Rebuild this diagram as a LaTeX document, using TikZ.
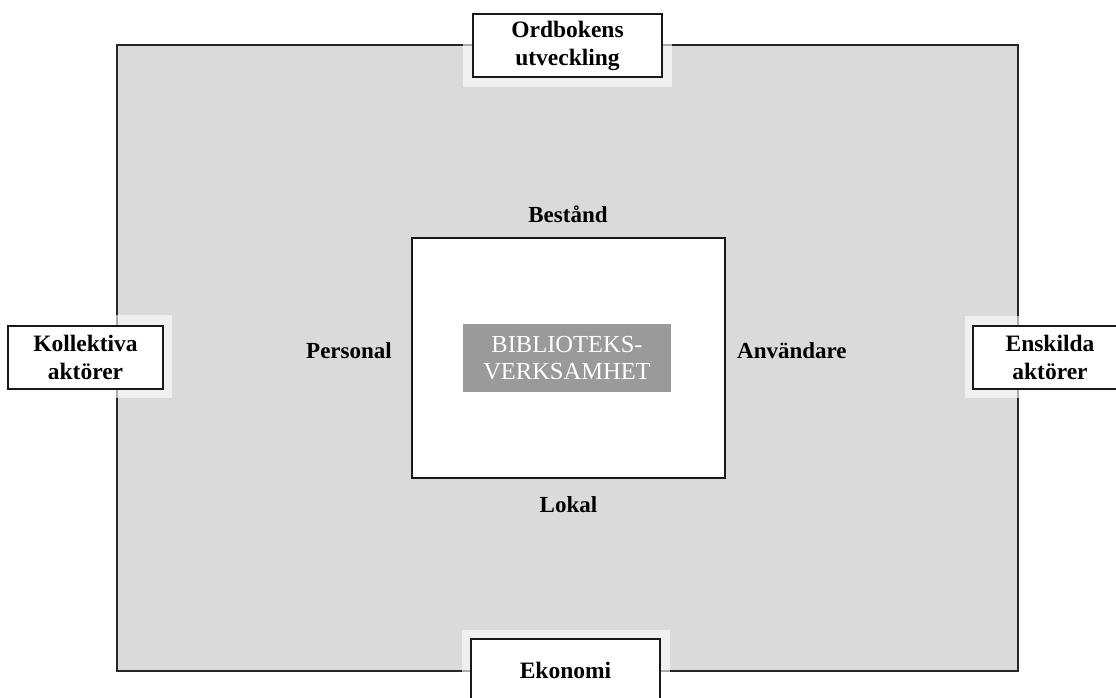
\documentclass[tikz,border=0pt]{standalone}
\usepackage{fontspec}
\setmainfont{Liberation Serif}
\definecolor{framegray}{HTML}{DADADA}
\definecolor{coregray}{HTML}{9A9A9A}
\begin{document}
\begin{tikzpicture}[x=1pt,y=-1pt,
  outerbox/.style={draw=black!85,line width=2pt,fill=framegray,inner sep=0pt},
  halo/.style={fill=white,fill opacity=0.62,draw=none,inner sep=0pt},
  factorbox/.style={draw=black!90,line width=1.8pt,fill=white,inner sep=0pt,
    align=center,font=\fontsize{23.5}{28}\selectfont\bfseries,minimum height=63pt},
  corebox/.style={draw=black!90,line width=1.8pt,fill=white,inner sep=0pt},
  coretext/.style={fill=coregray,text=white,inner sep=0pt,align=center,
    font=\fontsize{24.5}{27}\selectfont,minimum width=208pt,minimum height=68pt},
  sidelabel/.style={anchor=base,inner sep=0pt,font=\fontsize{23}{27}\selectfont\bfseries}]
\useasboundingbox (0,0) rectangle (1116,698);
% outer frame
\node[outerbox,minimum width=901pt,minimum height=626pt] (frame) at (567.5,358) {};
% halos
\node[halo,minimum width=209pt,minimum height=85pt] (haloT) at (567.5,44.5) {};
\node[halo,minimum width=172pt,minimum height=83pt] (haloL) at (86,356.5) {};
\node[halo,minimum width=151pt,minimum height=82pt] (haloR) at (1040.5,357) {};
\node[halo,minimum width=208pt,minimum height=68pt] (haloB) at (566,664) {};
% factor boxes
\node[factorbox,minimum width=189pt] (ordbok) at (567.5,45.5) {Ordbokens\\utveckling};
\node[factorbox,minimum width=155pt] (kollektiva) at (85.5,357.5) {Kollektiva\\aktörer};
\node[factorbox,minimum width=154pt] (enskilda) at (1050,357.5) {Enskilda\\aktörer};
\node[factorbox,minimum width=189pt] (ekonomi) at (565.5,670.5) {Ekonomi};
% core
\node[corebox,minimum width=313pt,minimum height=240pt] (core) at (568.5,358) {};
\node[coretext] (verksamhet) at (567,358) {BIBLIOTEKS-\\VERKSAMHET};
% labels
\node[sidelabel] (bestand) at (568,222) {Bestånd};
\node[sidelabel] (lokal) at (568.5,512) {Lokal};
\node[sidelabel,anchor=base east] (personal) at (392,358) {Personal};
\node[sidelabel,anchor=base west] (anvandare) at (737,358) {Användare};
\end{tikzpicture}
\end{document}
